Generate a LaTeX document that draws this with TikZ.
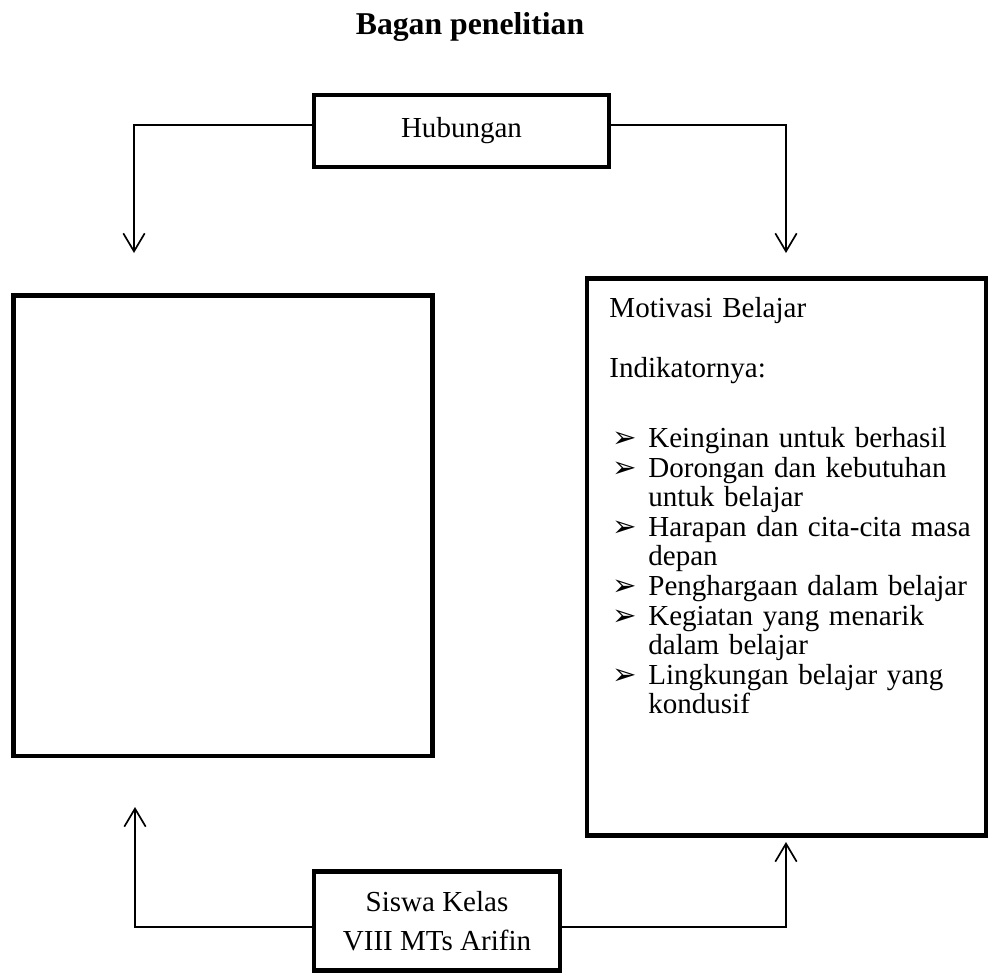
\documentclass[tikz,border=0pt]{standalone}
\usepackage{fontspec}
\setmainfont{Liberation Serif}
\newfontfamily\dingfont{DejaVu Sans}
\usetikzlibrary{arrows.meta}

\newcommand{\butir}{\makebox[17.3pt][l]{\hspace*{1.3pt}{\dingfont\fontsize{13pt}{13pt}\selectfont ➢}}}
\newcommand{\sisip}{\hspace*{17.3pt}}

\begin{document}
\begin{tikzpicture}[x=0.4444pt, y=-0.4444pt]
				\tikzset{every node/.style={font=\fontsize{12.9pt}{14pt}\selectfont},
					kotak/.style={draw, line width=2pt, inner sep=0pt},
					panah/.style={line width=0.75pt, -{Straight Barb[length=8pt, width=9.5pt]}}}
				\useasboundingbox (0,0) rectangle (989,974);
				
				%% JUDUL
				\node[font=\fontsize{14.1pt}{16pt}\selectfont\bfseries] (Judul) at (470,27) {Bagan penelitian};
				
				%% KOTAK
				\node[kotak, minimum width=131.1pt, minimum height=32pt] (Hub) at (461.5,131) {Hubungan};
				\node[kotak, minimum width=186.4pt, minimum height=204.7pt] (Kiri) at (223,525.75) {};
				\node[kotak, minimum width=177.3pt, minimum height=247.5pt] (Kanan) at (786.5,557) {};
				\node[kotak, minimum width=109.3pt, minimum height=44.2pt, align=center,
					font=\fontsize{12.9pt}{17.3pt}\selectfont] (Siswa) at (437,921) {Siswa Kelas\\VIII MTs Arifin};
				
				%% ISI KOTAK KANAN
				\node[anchor=base west, inner sep=0pt, text width=174pt, align=left,
					font=\fontsize{12.9pt}{13.15pt}\selectfont] (Motivasi) at (609,317) {Motivasi Belajar\\[13.75pt]
					Indikatornya:\\[18pt]
					\butir Keinginan untuk berhasil\\
					\butir Dorongan dan kebutuhan\\
					\sisip untuk belajar\\
					\butir Harapan dan cita-cita masa\\
					\sisip depan\\
					\butir Penghargaan dalam belajar\\
					\butir Kegiatan yang menarik\\
					\sisip dalam belajar\\
					\butir Lingkungan belajar yang\\
					\sisip kondusif};
				
				%% UJUNG PANAH
				\coordinate (UjungKiriAtas) at (134,253);
				\coordinate (UjungKananAtas) at (786,253);
				\coordinate (UjungKiriBawah) at (135,807);
				\coordinate (UjungKananBawah) at (786,842);
				
				\draw[panah] ([yshift=2.7pt]Hub.west) -| (UjungKiriAtas);
				\draw[panah] ([yshift=2.7pt]Hub.east) -| (UjungKananAtas);
				\draw[panah] ([yshift=-2.7pt]Siswa.west) -| (UjungKiriBawah);
				\draw[panah] ([yshift=-2.7pt]Siswa.east) -| (UjungKananBawah);
				
			\end{tikzpicture}
\end{document}
